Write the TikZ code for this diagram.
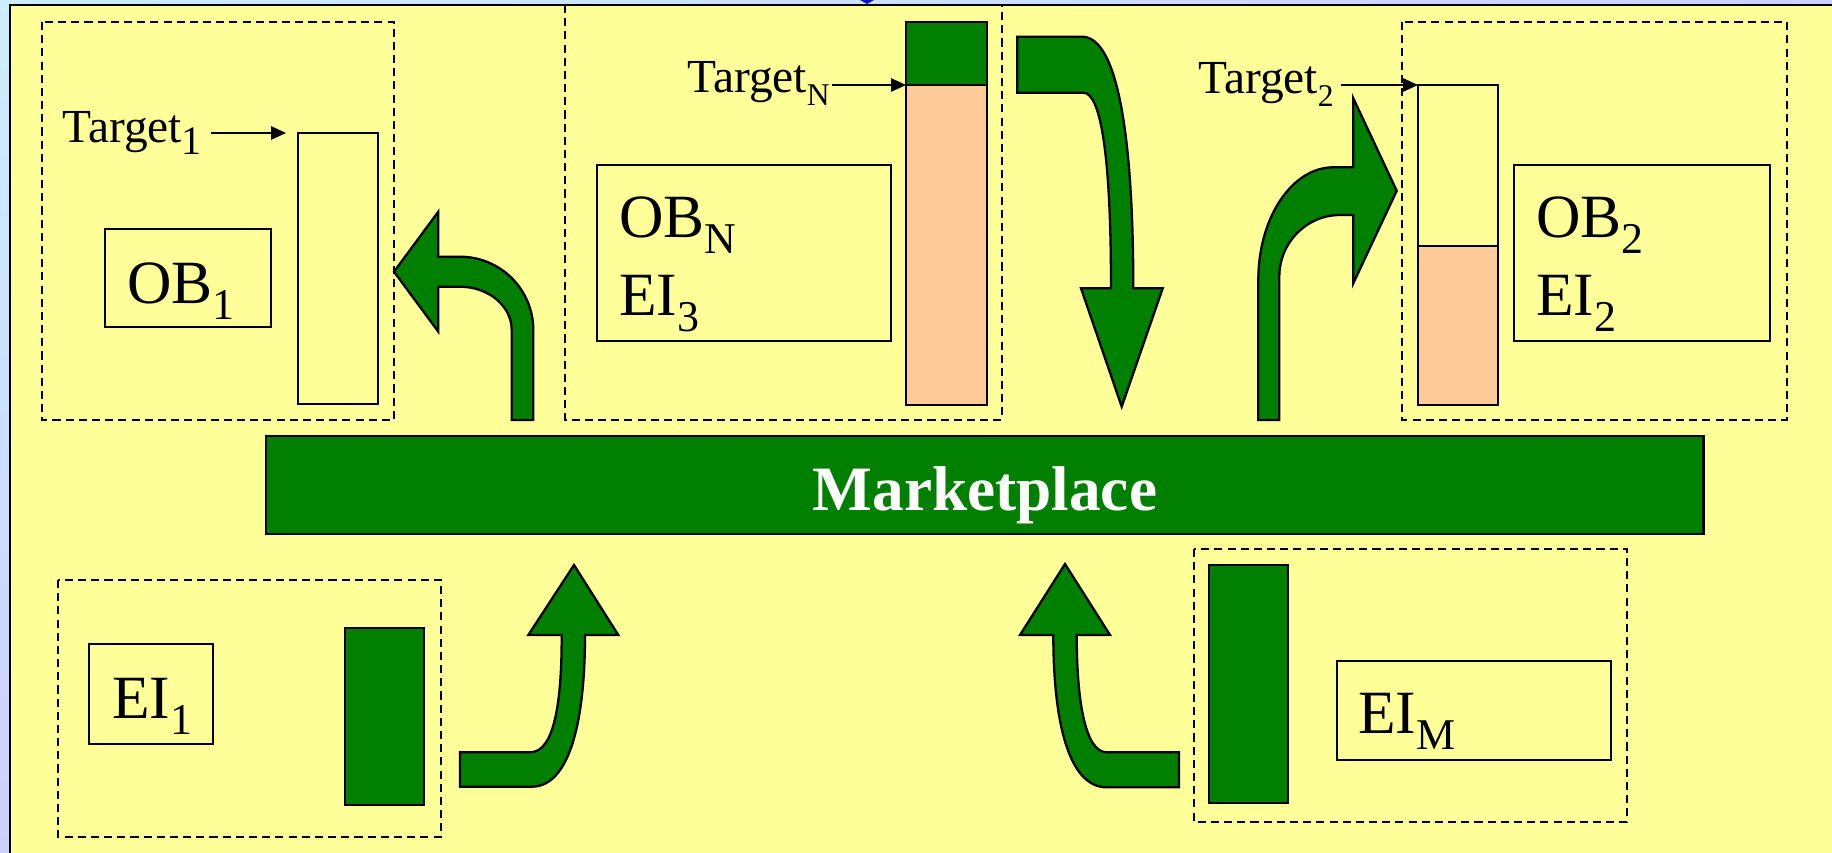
\documentclass[tikz,border=0pt]{standalone}
\usepackage{fontspec}
\setmainfont{Liberation Serif}
\usetikzlibrary{arrows.meta,shadings}
\definecolor{panel}{HTML}{FFFF99}
\definecolor{mgreen}{HTML}{007F00}
\definecolor{peach}{HTML}{FFCC99}
\definecolor{bgA}{HTML}{CCEEFF}
\definecolor{bgB}{HTML}{CCD0FF}
\definecolor{tipblue}{HTML}{1010D0}
\newcommand{\bsub}[1]{\raisebox{-9.5pt}{\fontsize{25}{25}\selectfont #1}}
\newcommand{\tsubA}[1]{\raisebox{-7pt}{\fontsize{23}{23}\selectfont #1}}
\newcommand{\tsubB}[1]{\raisebox{-7.5pt}{\fontsize{18}{18}\selectfont #1}}
\begin{document}
\begin{tikzpicture}[x=0.02cm,y=-0.02cm,
  solidbox/.style={draw=black, line width=1.6pt, anchor=north west, inner sep=0pt, outer sep=0pt},
  groupbox/.style={draw=black, line width=1.6pt, dash pattern=on 4.6pt off 2.9pt},
  bigarrow/.style={fill=mgreen, draw=black, line width=1.3pt, line join=miter},
  tarrow/.style={draw=black, line width=1.2pt, -{Triangle[length=8.5pt,width=7.5pt]}},
  bigtext/.style={font=\fontsize{35}{42}\selectfont, inner sep=0pt, anchor=base west},
  ttext/.style={font=\fontsize{27}{32}\selectfont, inner sep=0pt, anchor=base west},
]
\useasboundingbox (0,0) rectangle (1832,852);
\clip (0,0) rectangle (1832,852);
% background and panel
\shade[upper left=bgA, upper right=bgB, lower left=bgB, lower right=bgB] (0,0) rectangle (1832,852);
\filldraw[fill=panel, draw=black, line width=1.7pt] (10,5) rectangle (1860,880);
\fill[tipblue] (860,0) -- (874,0) -- (867,4) -- cycle;

% dashed group boxes
\draw[groupbox] (42,22) rectangle (394,420);
\draw[groupbox] (565,5) rectangle (1002,420);
\draw[groupbox] (1402,22) rectangle (1787,420);
\draw[groupbox] (58,580) rectangle (441,837);
\draw[groupbox] (1194,549) rectangle (1627,822);

% bars
\node[solidbox, minimum width=1.6cm, minimum height=5.42cm] (b1) at (298,133) {};
\node[solidbox, fill=mgreen, minimum width=1.62cm, minimum height=1.26cm] (bNg) at (906,22) {};
\node[solidbox, fill=peach, minimum width=1.62cm, minimum height=6.4cm] (bNp) at (906,85) {};
\node[solidbox, minimum width=1.6cm, minimum height=3.22cm] (b2t) at (1418,85) {};
\node[solidbox, fill=peach, minimum width=1.6cm, minimum height=3.18cm] (b2p) at (1418,246) {};
\node[solidbox, fill=mgreen, minimum width=1.58cm, minimum height=3.54cm] (e1b) at (345,628) {};
\node[solidbox, fill=mgreen, minimum width=1.58cm, minimum height=4.76cm] (eMb) at (1209,565) {};

% label boxes
\node[solidbox, minimum width=3.32cm, minimum height=1.96cm] (ob1) at (105,229) {};
\node[solidbox, minimum width=5.88cm, minimum height=3.52cm] (obN) at (597,165) {};
\node[solidbox, minimum width=5.12cm, minimum height=3.52cm] (ob2) at (1514,165) {};
\node[solidbox, minimum width=2.48cm, minimum height=2.0cm] (ei1) at (89,644) {};
\node[solidbox, minimum width=5.48cm, minimum height=1.98cm] (eiM) at (1337,661) {};

% label texts
\node[bigtext] (ob1t) at (127,303) {OB\bsub{1}};
\node[bigtext] (obNt1) at (619,237) {OB\bsub{N}};
\node[bigtext] (obNt2) at (619,315) {EI\bsub{3}};
\node[bigtext] (ob2t1) at (1536,237) {OB\bsub{2}};
\node[bigtext] (ob2t2) at (1536,315) {EI\bsub{2}};
\node[bigtext] (ei1t) at (112,718) {EI\bsub{1}};
\node[bigtext] (eiMt) at (1358,733) {EI\bsub{M}};

% targets
\node[ttext] (t1) at (62,142) {Target\tsubA{1}};
\node[ttext] (tN) at (687,92.7) {Target\tsubB{N}};
\node[ttext] (t2) at (1198,93) {Target\tsubB{2}};
\draw[tarrow, shorten <=5pt, shorten >=6.8pt] (t1.east |- b1.north west) -- (b1.north west);
\draw[tarrow, shorten <=1pt] (tN.east |- bNp.north west) -- (bNp.north west);
\draw[tarrow, shorten <=4pt] (t2.east |- b2t.north west) -- (b2t.north west);

% marketplace
\node[solidbox, fill=mgreen, minimum width=28.76cm, minimum height=1.96cm] (mk) at (266,436) {};
\node[font=\bfseries\fontsize{36}{40}\selectfont, text=white, inner sep=0pt, anchor=base] (mkt) at (985,510) {Marketplace};

% big curved arrows
\draw[bigarrow] (511.7,420) -- (511.7,330) .. controls (511.7,306.1) and (488.5,286.7) .. (460,286.7)
  -- (438.3,286.7) -- (438.3,331.7) -- (394,271.7) -- (438.3,211.7) -- (438.3,256.7) -- (460,256.7)
  .. controls (500.5,256.7) and (533.3,289.5) .. (533.3,330) -- (533.3,420) -- cycle;
\draw[bigarrow] (1017.3,36.7) -- (1082,36.7) .. controls (1120,36.7) and (1133.3,150) .. (1133.3,288.3)
  -- (1162.7,288.3) -- (1121.7,406.7) -- (1081,288.3) -- (1111,288.3)
  .. controls (1111,150) and (1100,92.7) .. (1083.3,92.7) -- (1017.3,92.7) -- cycle;
\draw[bigarrow] (1258.3,420) -- (1258.3,280) .. controls (1258.3,217.8) and (1291.9,167.3) .. (1333.3,167.3)
  -- (1353.3,167.3) -- (1353.3,98.3) -- (1396.7,190.8) -- (1353.3,283.3) -- (1353.3,215) -- (1340,215)
  .. controls (1306.5,215) and (1279.3,242.6) .. (1279.3,276.7) -- (1279.3,420) -- cycle;
\draw[bigarrow] (460,752.3) -- (530,752.3) .. controls (555,752.3) and (561.7,700) .. (561.7,635)
  -- (528.3,635) -- (574,565) -- (618.3,635) -- (585,635)
  .. controls (585,720) and (570,786.7) .. (531.7,786.7) -- (460,786.7) -- cycle;
\draw[bigarrow] (1179,752.3) -- (1106.7,752.3) .. controls (1085,752.3) and (1076.7,700) .. (1076.7,635)
  -- (1110,635) -- (1065,564) -- (1020,635) -- (1053.3,635)
  .. controls (1053.3,720) and (1068,787.3) .. (1106.7,787.3) -- (1179,787.3) -- cycle;
\end{tikzpicture}
\end{document}
